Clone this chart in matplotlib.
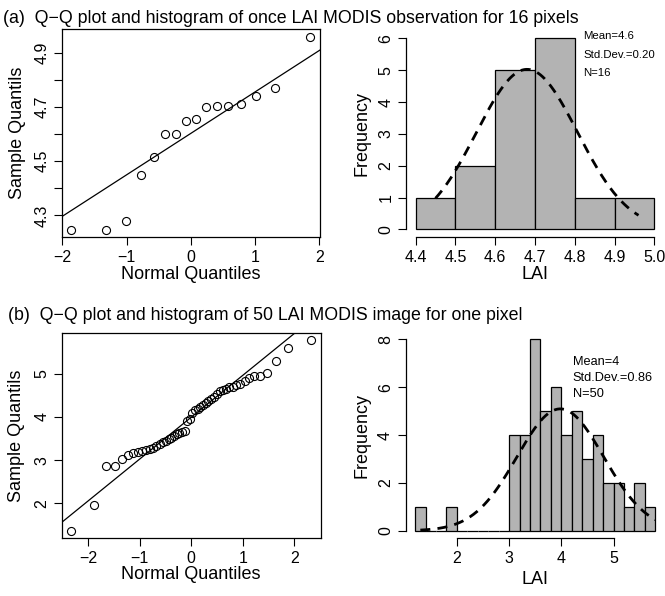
import numpy as np
import matplotlib
matplotlib.use("Agg")
import matplotlib.pyplot as plt

plt.rcParams['font.family'] = ['Liberation Sans', 'DejaVu Sans']

# ---- data ----
# (a) one LAI MODIS observation for 16 pixels, sorted
lai_a = [4.248, 4.248, 4.279, 4.448, 4.517, 4.600, 4.600, 4.649,
         4.656, 4.700, 4.704, 4.704, 4.711, 4.740, 4.769, 4.958]
hist_a_edges = [4.4, 4.5, 4.6, 4.7, 4.8, 4.9, 5.0]
hist_a_counts = [1, 2, 5, 6, 1, 1]
curve_a = {"mean": 4.68, "sd": 0.127, "start": 4.45, "stop": 4.96}
stats_a = ["Mean=4.6", "Std.Dev.=0.20", "N=16"]

# (b) 50 LAI MODIS images for one pixel, sorted
lai_b = [1.37, 1.96, 2.86, 2.87, 3.03, 3.12, 3.17, 3.20, 3.22, 3.23,
         3.25, 3.27, 3.33, 3.37, 3.41, 3.45, 3.48, 3.52, 3.57, 3.61,
         3.63, 3.65, 3.67, 3.91, 3.96, 4.10, 4.15, 4.18, 4.22, 4.27,
         4.32, 4.36, 4.41, 4.47, 4.54, 4.60, 4.63, 4.65, 4.68, 4.70,
         4.73, 4.77, 4.82, 4.91, 4.94, 4.95, 5.01, 5.30, 5.59, 5.77]
hist_b_edges = [1.2, 1.4, 1.6, 1.8, 2.0, 2.2, 2.4, 2.6, 2.8, 3.0, 3.2, 3.4,
                3.6, 3.8, 4.0, 4.2, 4.4, 4.6, 4.8, 5.0, 5.2, 5.4, 5.6, 5.8]
hist_b_counts = [1, 0, 0, 1, 0, 0, 0, 0, 0, 4, 4, 8, 5, 6, 4, 5, 3, 4,
                 2, 2, 1, 2, 1]
curve_b = {"mean": 3.98, "sd": 0.83, "start": 1.3, "stop": 5.8}
stats_b = ["Mean=4", "Std.Dev.=0.86", "N=50"]

titles = ["(a)  Q\u2212Q plot and histogram of once LAI MODIS observation for 16 pixels",
          "(b)  Q\u2212Q plot and histogram of 50 LAI MODIS image for one pixel"]

W, H = 665, 596
fig = plt.figure(figsize=(W / 100, H / 100), dpi=100)


def box(x0, y0, x1, y1):
    # pixel box (top-left origin) -> figure fraction rect
    return [x0 / W, 1 - y1 / H, (x1 - x0) / W, (y1 - y0) / H]


def ppoints(n):
    a = 3 / 8 if n <= 10 else 0.5
    return (np.arange(1, n + 1) - a) / (n + 1 - 2 * a)


def qnorm(p):
    # inverse normal cdf (Acklam approximation)
    p = np.asarray(p, dtype=float)
    a = [-3.969683028665376e+01, 2.209460984245205e+02, -2.759285104469687e+02,
         1.383577518672690e+02, -3.066479806614716e+01, 2.506628277459239e+00]
    b = [-5.447609879822406e+01, 1.615858368580409e+02, -1.556989798598866e+02,
         6.680131188771972e+01, -1.328068155288572e+01]
    c = [-7.784894002430293e-03, -3.223964580411365e-01, -2.400758277161838e+00,
         -2.549732539343734e+00, 4.374664141464968e+00, 2.938163982698783e+00]
    d = [7.784695709041462e-03, 3.224671290700398e-01, 2.445134137142996e+00,
         3.754408661907416e+00]
    out = np.empty_like(p)
    lo = p < 0.02425
    hi = p > 1 - 0.02425
    mid = ~(lo | hi)
    q = np.sqrt(-2 * np.log(p[lo]))
    out[lo] = (((((c[0]*q+c[1])*q+c[2])*q+c[3])*q+c[4])*q+c[5]) / ((((d[0]*q+d[1])*q+d[2])*q+d[3])*q+1)
    q = np.sqrt(-2 * np.log(1 - p[hi]))
    out[hi] = -(((((c[0]*q+c[1])*q+c[2])*q+c[3])*q+c[4])*q+c[5]) / ((((d[0]*q+d[1])*q+d[2])*q+d[3])*q+1)
    q = p[mid] - 0.5
    r = q * q
    out[mid] = (((((a[0]*r+a[1])*r+a[2])*r+a[3])*r+a[4])*r+a[5])*q / (((((b[0]*r+b[1])*r+b[2])*r+b[3])*r+b[4])*r+1)
    return out


def pad(lo, hi):
    d = (hi - lo) * 0.04
    return lo - d, hi + d


def style_ticks(ax):
    ax.tick_params(direction='out', length=6, width=0.8, pad=3,
                   labelsize=11.5, colors='black')
    for lab in ax.get_yticklabels():
        lab.set_rotation(90)
        lab.set_verticalalignment('center')


def qq_panel(rect, values, yticks, ylabels, xlab_y, ylab_x):
    ax = fig.add_axes(rect)
    y = np.sort(values)
    x = qnorm(ppoints(len(y)))
    ax.plot(x, y, 'o', mfc='none', mec='black', ms=5.8, mew=0.8)
    q1, q3 = np.percentile(y, [25, 75])
    z1, z3 = qnorm([0.25, 0.75])
    slope = (q3 - q1) / (z3 - z1)
    inter = q1 - slope * z1
    ax.set_xlim(pad(x.min(), x.max()))
    ax.set_ylim(pad(y.min(), y.max()))
    xs = np.array(ax.get_xlim())
    ax.plot(xs, inter + slope * xs, color='black', lw=0.9)
    ax.set_xticks([-2, -1, 0, 1, 2])
    ax.set_xticklabels(['\u22122', '\u22121', '0', '1', '2'])
    ax.set_yticks(yticks)
    ax.set_yticklabels(ylabels)
    for s in ax.spines.values():
        s.set_linewidth(0.9)
    style_ticks(ax)
    ax.set_xlabel('Normal Quantiles', fontsize=13)
    ax.set_ylabel('Sample Quantils', fontsize=13)
    ax.xaxis.set_label_coords(0.5, xlab_y)
    ax.yaxis.set_label_coords(ylab_x, 0.5)
    ax.xaxis.label.set_verticalalignment('center')
    ax.yaxis.label.set_verticalalignment('center')
    return ax


def hist_panel(rect, edges, counts, curve, stats, xticks, xlabels, yticks,
               text_xy, text_size, text_step, xlab_y, ylab_x):
    ax = fig.add_axes(rect)
    edges = np.array(edges)
    counts = np.array(counts)
    ax.bar(edges[:-1], counts, width=np.diff(edges), align='edge',
           color='#b3b3b3', edgecolor='black', linewidth=0.9)
    bw = edges[1] - edges[0]
    xs = np.linspace(curve["start"], curve["stop"], 200)
    dens = np.exp(-0.5 * ((xs - curve["mean"]) / curve["sd"]) ** 2) / (curve["sd"] * np.sqrt(2 * np.pi))
    ax.plot(xs, dens * counts.sum() * bw, color='black', lw=2.0,
            linestyle=(0, (3.6, 2.6)))
    ax.set_xlim(pad(edges[0], edges[-1]))
    ax.set_ylim(pad(0, counts.max()))
    ax.spines['top'].set_visible(False)
    ax.spines['right'].set_visible(False)
    ax.spines['left'].set_bounds(yticks[0], yticks[-1])
    ax.spines['bottom'].set_bounds(xticks[0], xticks[-1])
    for s in ax.spines.values():
        s.set_linewidth(0.9)
    ax.set_xticks(xticks)
    ax.set_xticklabels(xlabels)
    ax.set_yticks(yticks)
    style_ticks(ax)
    tx, ty = text_xy
    for i, s in enumerate(stats):
        ax.text(tx, ty - i * text_step, s, fontsize=text_size,
                ha='left', va='center')
    ax.set_xlabel('LAI', fontsize=13)
    ax.set_ylabel('Frequency', fontsize=13)
    ax.xaxis.set_label_coords(0.5, xlab_y)
    ax.yaxis.set_label_coords(ylab_x, 0.5)
    ax.xaxis.label.set_verticalalignment('center')
    ax.yaxis.label.set_verticalalignment('center')
    return ax


# (a)
fig.text(3 / W, 1 - 22.7 / H, titles[0], fontsize=12.8, va='baseline', ha='left')
qq_panel(box(61.7, 29.3, 320, 237.3), lai_a,
         [4.3, 4.4, 4.5, 4.6, 4.7, 4.8, 4.9],
         ['4.3', '', '4.5', '', '4.7', '', '4.9'], -0.181, -0.173)
hist_panel(box(406, 30.7, 664, 237), hist_a_edges, hist_a_counts, curve_a,
           stats_a, [4.4, 4.5, 4.6, 4.7, 4.8, 4.9, 5.0],
           ['4.4', '4.5', '4.6', '4.7', '4.8', '4.9', '5.0'],
           [0, 1, 2, 3, 4, 5, 6], (4.822, 6.06), 8.2, 0.58, -0.184, -0.172)

# (b)
fig.text(8 / W, 1 - 320 / H, titles[1], fontsize=12.8, va='baseline', ha='left')
qq_panel(box(61.7, 332.7, 320.7, 538.3), lai_b, [2, 3, 4, 5],
         ['2', '3', '4', '5'], -0.178, -0.174)
hist_panel(box(405.5, 331.7, 665, 538.4), hist_b_edges, hist_b_counts, curve_b,
           stats_b, [2, 3, 4, 5], ['2', '3', '4', '5'], [0, 2, 4, 6, 8],
           (4.22, 7.07), 9.2, 0.675, -0.20, -0.169)

fig.savefig('out.png', dpi=100)
